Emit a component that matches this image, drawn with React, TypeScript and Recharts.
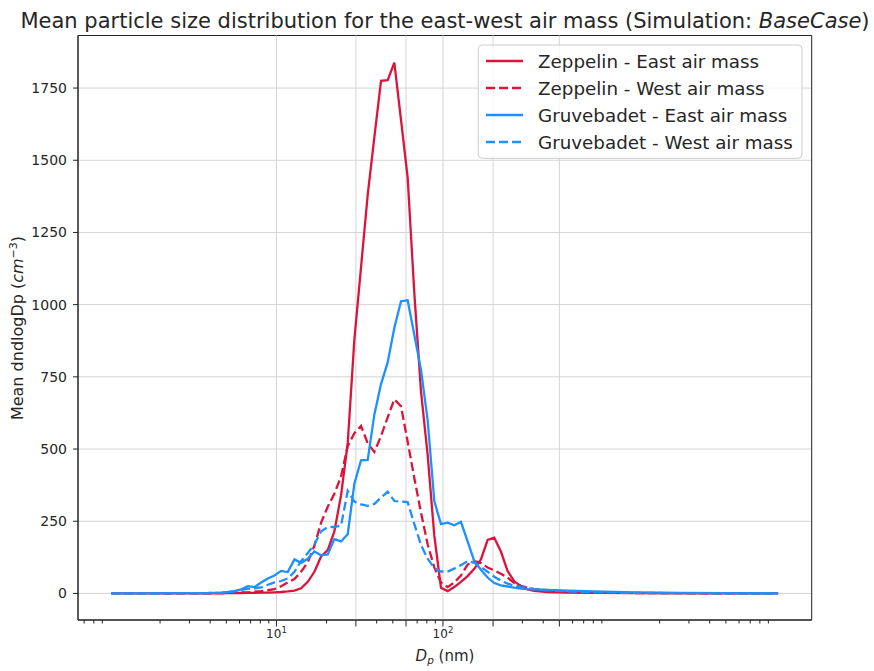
import React from "react";
import {
  LineChart,
  Line,
  XAxis,
  YAxis,
  CartesianGrid,
  ReferenceLine,
  ReferenceArea,
} from "recharts";

// particle diameter bins (nm)
const diameters = [
  1.02, 1.69, 2.68, 3.87,
  4.66, 5.11, 5.6, 6.14, 6.73, 7.38, 8.09, 8.87, 9.73, 10.67, 11.69, 12.82,
  14.06, 15.42, 16.9, 18.54, 20.32, 22.28, 24.43, 26.79, 29.38, 32.21, 35.32,
  38.73, 42.46, 46.56, 51.05, 55.98, 61.38, 67.3, 73.79, 80.91, 88.72, 97.27,
  106.7, 116.9, 128.2, 140.6, 154.2, 169.0, 185.4, 203.2, 222.8, 244.3, 267.9,
  293.8, 322.1, 353.2,
  424.6, 559.8, 809.1, 1406, 2679, 5105, 10300,
];

const zeppelinEast = [
  0, 0, 0, 0.3,
  0.5, 1, 1, 1.5, 2, 2, 3, 3, 4, 5, 7, 10,
  18, 40, 75, 128, 150, 215, 340, 520, 880, 1130, 1380,
  1580, 1775, 1777, 1838, 1640, 1440, 1040, 700, 480, 200, 20,
  8, 22, 40, 60, 85, 118, 185, 193, 145, 78, 42,
  25, 14, 9,
  5, 3, 2, 1, 0.5, 0.3, 0.2,
];

const zeppelinWest = [
  0, 0, 0.2, 0.5,
  1, 2, 3, 3.5, 4, 6, 8, 11, 15, 25, 38, 50,
  75, 108, 165, 245, 300, 345, 405, 510, 555, 580, 520,
  490, 545, 610, 672, 648, 525, 400, 280, 170, 90, 38,
  22, 38, 62, 100, 112, 105, 90, 80, 68, 55, 36,
  26, 20, 15,
  10, 6, 3, 1.5, 0.8, 0.4, 0.2,
];

const gruvebadetEast = [
  0.5, 0.5, 0.8, 1.5,
  3, 5, 8, 14, 25, 22, 38, 52, 62, 78, 74, 118,
  106, 120, 145, 132, 135, 188, 180, 205, 380, 461, 462,
  620, 725, 800, 920, 1012, 1015, 895, 775, 600, 320, 240,
  245, 236, 248, 180, 112, 82, 55, 36, 28, 24, 20,
  17, 15, 14,
  12, 10, 7, 4, 2, 1, 0.5,
];

const gruvebadetWest = [
  0.5, 0.5, 0.8, 1.2,
  2, 4, 7, 12, 16, 18, 21, 30, 38, 43, 52, 75,
  112, 140, 170, 215, 230, 230, 235, 355, 318, 308, 303,
  310, 332, 352, 320, 318, 316, 240, 168, 120, 88, 76,
  76, 86, 98, 112, 106, 92, 75, 58, 44, 34, 27,
  22, 18, 15,
  11, 7, 4, 2, 1, 0.5, 0.3,
];

const yTicks = [0, 250, 500, 750, 1000, 1250, 1500, 1750];
const majorXTicks = [10, 30, 60, 100, 200, 500];
const minorXTicks = [
  0.7, 0.8, 0.9, 2, 3, 4, 5, 6, 7, 8, 9, 20, 40, 50, 70, 80, 90, 300, 400,
  600, 700, 800, 900, 2000, 3000, 4000, 5000, 6000, 7000, 8000, 9000,
];
const xTickLabels: Record<number, string> = { 10: "1", 100: "2" };

const X_DOMAIN = [0.643, 16385];
const Y_DOMAIN = [-92, 1932];

const RED = "#dc143c";
const BLUE = "#1e90ff";
const TEXT = "#262626";
const FONT = "DejaVu Sans";

const series = [
  { key: "ze", name: "Zeppelin - East air mass", color: RED, dash: undefined },
  { key: "zw", name: "Zeppelin - West air mass", color: RED, dash: "9 4" },
  { key: "ge", name: "Gruvebadet - East air mass", color: BLUE, dash: undefined },
  { key: "gw", name: "Gruvebadet - West air mass", color: BLUE, dash: "9 4" },
];

const data = diameters.map((d, i) => ({
  d,
  ze: zeppelinEast[i],
  zw: zeppelinWest[i],
  ge: gruvebadetEast[i],
  gw: gruvebadetWest[i],
}));

const XTick = (props: any) => {
  const { x, y, payload } = props;
  const v = payload.value;
  const major = majorXTicks.includes(v);
  const exp = xTickLabels[v];
  return (
    <g>
      <line
        x1={x}
        x2={x}
        y1={y}
        y2={y + (major ? 6.5 : 3.5)}
        stroke="#222"
        strokeWidth={1}
      />
      {exp && (
        <text
          x={x}
          y={y + 18}
          textAnchor="middle"
          fontSize={12}
          fontFamily={FONT}
          fill={TEXT}
        >
          10
          <tspan dy={-5} fontSize={8.5}>
            {exp}
          </tspan>
        </text>
      )}
    </g>
  );
};

const allXTicks = [...minorXTicks, ...majorXTicks].sort((a, b) => a - b);

export default function App() {
  return (
    <div
      style={{
        position: "absolute",
        left: 0,
        top: 0,
        width: 874,
        height: 671,
        background: "#fff",
      }}
    >
      <LineChart
        width={874}
        height={671}
        data={data}
        margin={{ top: 35.5, right: 62.3, bottom: 0, left: 0 }}
      >
        <CartesianGrid vertical={false} stroke="#d4d4d4" strokeWidth={1} />
        {majorXTicks.map((v) => (
          <ReferenceLine key={v} x={v} stroke="#d4d4d4" strokeWidth={1} />
        ))}
        <XAxis
          dataKey="d"
          type="number"
          scale="log"
          domain={X_DOMAIN}
          allowDataOverflow
          ticks={allXTicks}
          interval={0}
          tickSize={0}
          tickMargin={0}
          tick={<XTick />}
          height={51}
          axisLine={{ stroke: "#222" }}
        />
        <YAxis
          type="number"
          domain={Y_DOMAIN}
          allowDataOverflow
          ticks={yTicks}
          interval={0}
          width={78}
          tickSize={5}
          tickMargin={6}
          tickLine={{ stroke: "#222" }}
          axisLine={{ stroke: "#222" }}
          tick={{ fontSize: 14, fill: TEXT, fontFamily: FONT }}
        />
        {series.map((s) => (
          <Line
            key={s.key}
            dataKey={s.key}
            name={s.name}
            type="linear"
            stroke={s.color}
            strokeWidth={2.3}
            strokeDasharray={s.dash}
            dot={false}
            isAnimationActive={false}
          />
        ))}
        <ReferenceArea
          x1={X_DOMAIN[0]}
          x2={X_DOMAIN[1]}
          y1={Y_DOMAIN[0]}
          y2={Y_DOMAIN[1]}
          fill="none"
          stroke="#222"
          strokeWidth={1}
        />
      </LineChart>
      <svg
        width={874}
        height={671}
        style={{ position: "absolute", left: 0, top: 0, pointerEvents: "none" }}
        fontFamily={FONT}
      >
        <text x={445} y={28} textAnchor="middle" fontSize={21} fill={TEXT}>
          Mean particle size distribution for the east-west air mass (Simulation:{" "}
          <tspan fontStyle="italic">BaseCase</tspan>)
        </text>
        <text x={445} y={661} textAnchor="middle" fontSize={15} fill={TEXT}>
          <tspan fontStyle="italic">D</tspan>
          <tspan fontStyle="italic" fontSize={10.5} dy={3}>
            p
          </tspan>
          <tspan dy={-3}> (nm)</tspan>
        </text>
        <text
          transform="translate(23,328) rotate(-90)"
          textAnchor="middle"
          fontSize={16}
          fill={TEXT}
        >
          Mean dndlogDp (<tspan fontStyle="italic">cm</tspan>
          <tspan fontSize={11} dy={-6}>
            −3
          </tspan>
          <tspan dy={6}>)</tspan>
        </text>
        <rect
          x={478.3}
          y={45}
          width={323.7}
          height={113.3}
          rx={4}
          fill="#fff"
          fillOpacity={0.8}
          stroke="#cccccc"
          strokeWidth={1}
        />
        {series.map((s, i) => (
          <g key={s.key}>
            <line
              x1={486}
              x2={523}
              y1={61 + 27 * i}
              y2={61 + 27 * i}
              stroke={s.color}
              strokeWidth={2.3}
              strokeDasharray={s.dash}
            />
            <text x={538} y={67.5 + 27 * i} fontSize={18.3} fill={TEXT}>
              {s.name}
            </text>
          </g>
        ))}
      </svg>
    </div>
  );
}
